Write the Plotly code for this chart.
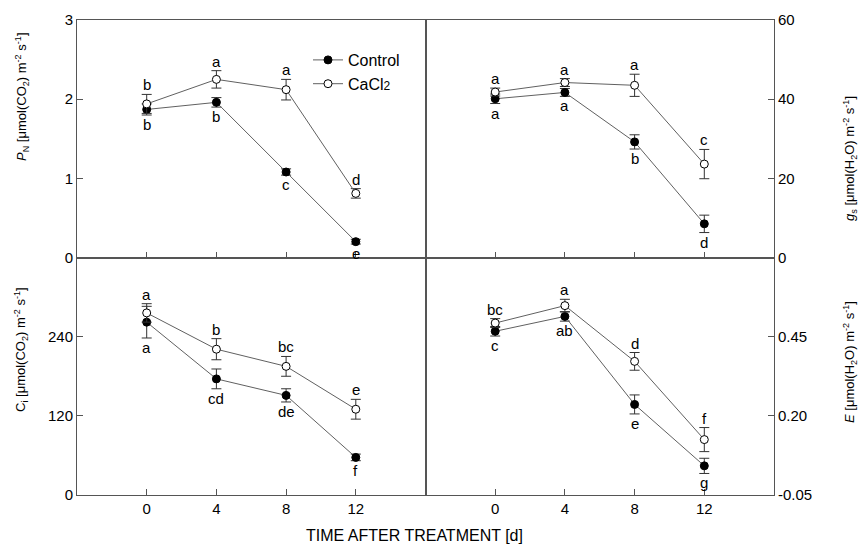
import plotly.graph_objects as go

days = [0, 4, 8, 12]

pn_ctrl = [1.87, 1.96, 1.08, 0.20]
pn_ctrl_err = [0.07, 0.06, 0.04, 0.03]
pn_ca = [1.94, 2.25, 2.12, 0.81]
pn_ca_err = [0.12, 0.11, 0.13, 0.06]
pn_ctrl_lab = ["b", "b", "c", "e"]
pn_ca_lab = ["b", "a", "a", "d"]

gs_ctrl = [40.1, 41.7, 29.2, 8.5]
gs_ctrl_err = [1.2, 1.0, 1.8, 2.2]
gs_ca = [41.8, 44.2, 43.5, 23.6]
gs_ca_err = [1.0, 1.0, 2.8, 3.7]
gs_ctrl_lab = ["a", "a", "b", "d"]
gs_ca_lab = ["a", "a", "a", "c"]

ci_ctrl = [262, 176, 151, 57]
ci_ctrl_err = [24, 15, 10, 5]
ci_ca = [276, 221, 195, 130]
ci_ca_err = [14, 16, 15, 15]
ci_ctrl_lab = ["a", "cd", "de", "f"]
ci_ca_lab = ["a", "b", "bc", "e"]

e_ctrl = [0.467, 0.514, 0.236, 0.042]
e_ctrl_err = [0.015, 0.015, 0.03, 0.024]
e_ca = [0.493, 0.548, 0.372, 0.125]
e_ca_err = [0.014, 0.02, 0.028, 0.038]
e_ctrl_lab = ["c", "ab", "e", "g"]
e_ca_lab = ["bc", "a", "d", "f"]

FONT = "Liberation Sans, Arial, sans-serif"
LINE_C = "#606060"
AX_C = "#555555"

W, H = 862, 544
ML, MR, MT, MB = 77, 88, 20, 49
PW = W - ML - MR
PH = H - MT - MB


def px_x(px):
    return (px - ML) / PW


def px_y(py):
    return (H - MB - py) / PH


fig = go.Figure()

panels = [
    ("x", "y", pn_ctrl, pn_ctrl_err, pn_ca, pn_ca_err, pn_ctrl_lab, pn_ca_lab, True),
    ("x2", "y2", gs_ctrl, gs_ctrl_err, gs_ca, gs_ca_err, gs_ctrl_lab, gs_ca_lab, False),
    ("x3", "y3", ci_ctrl, ci_ctrl_err, ci_ca, ci_ca_err, ci_ctrl_lab, ci_ca_lab, False),
    ("x4", "y4", e_ctrl, e_ctrl_err, e_ca, e_ca_err, e_ctrl_lab, e_ca_lab, False),
]

annotations = []
for xa, ya, c, ce, ca, cae, cl, cal, leg in panels:
    fig.add_trace(go.Scatter(
        x=days, y=c, xaxis=xa, yaxis=ya, mode="lines+markers", name="Control",
        showlegend=leg, line=dict(color=LINE_C, width=1),
        marker=dict(color="black", size=8, line=dict(color="black", width=1)),
        error_y=dict(type="data", array=ce, visible=True, color="#333333",
                     thickness=1, width=5),
    ))
    fig.add_trace(go.Scatter(
        x=days, y=ca, xaxis=xa, yaxis=ya, mode="lines+markers",
        name="CaCl<span style='font-size:12px'>2</span>",
        showlegend=leg, line=dict(color=LINE_C, width=1),
        marker=dict(color="white", size=8, line=dict(color="black", width=1)),
        error_y=dict(type="data", array=cae, visible=True, color="#333333",
                     thickness=1, width=5),
    ))
    for d, v, e, t in zip(days, c, ce, cl):
        annotations.append(dict(x=d, y=v - e, xref=xa, yref=ya, text=t,
                                showarrow=False, yanchor="top", yshift=1,
                                font=dict(size=15, color="black", family=FONT)))
    for d, v, e, t in zip(days, ca, cae, cal):
        annotations.append(dict(x=d, y=v + e, xref=xa, yref=ya, text=t,
                                showarrow=False, yanchor="bottom", yshift=-1,
                                font=dict(size=15, color="black", family=FONT)))

title_font = dict(size=13, color="black", family=FONT)
annotations += [
    dict(x=px_x(22), y=px_y(97), xref="paper", yref="paper", showarrow=False,
         textangle=-90, xanchor="center", yanchor="middle", font=title_font,
         text="<i>P</i><sub>N</sub> [μmol(CO<sub>2</sub>) m<sup>-2</sup> s<sup>-1</sup>]"),
    dict(x=px_x(21), y=px_y(350), xref="paper", yref="paper", showarrow=False,
         textangle=-90, xanchor="center", yanchor="middle", font=title_font,
         text="C<sub>i</sub> [μmol(CO<sub>2</sub>) m<sup>-2</sup> s<sup>-1</sup>]"),
    dict(x=px_x(850), y=px_y(159), xref="paper", yref="paper", showarrow=False,
         textangle=-90, xanchor="center", yanchor="middle", font=title_font,
         text="<i>g</i><sub>s</sub> [μmol(H<sub>2</sub>O) m<sup>-2</sup> s<sup>-1</sup>]"),
    dict(x=px_x(850), y=px_y(362), xref="paper", yref="paper", showarrow=False,
         textangle=-90, xanchor="center", yanchor="middle", font=title_font,
         text="<i>E</i> [μmol(H<sub>2</sub>O) m<sup>-2</sup> s<sup>-1</sup>]"),
    dict(x=px_x(414), y=px_y(535), xref="paper", yref="paper", showarrow=False,
         xanchor="center", yanchor="middle",
         font=dict(size=16, color="black", family=FONT),
         text="TIME AFTER TREATMENT [d]"),
]

xcommon = dict(range=[-4, 16], tickvals=days, ticks="inside", ticklen=6,
               tickcolor=AX_C, showline=True, linecolor=AX_C, linewidth=1,
               mirror=True, showgrid=False, zeroline=False,
               tickfont=dict(size=15, color="black", family=FONT))
ycommon = dict(ticks="inside", ticklen=6, tickcolor=AX_C, showline=True,
               linecolor=AX_C, linewidth=1, mirror=True, showgrid=False,
               zeroline=False, tickfont=dict(size=15, color="black", family=FONT))

fig.update_layout(
    width=W, height=H,
    margin=dict(l=ML, r=MR, t=MT, b=MB),
    paper_bgcolor="white", plot_bgcolor="white",
    font=dict(family=FONT, color="black"),
    xaxis=dict(xcommon, domain=[0, 0.5], anchor="y", showticklabels=False),
    xaxis2=dict(xcommon, domain=[0.5, 1], anchor="y2", showticklabels=False),
    xaxis3=dict(xcommon, domain=[0, 0.5], anchor="y3"),
    xaxis4=dict(xcommon, domain=[0.5, 1], anchor="y4"),
    yaxis=dict(ycommon, domain=[0.5, 1], anchor="x", range=[0, 3],
               tickvals=[0, 1, 2, 3]),
    yaxis2=dict(ycommon, domain=[0.5, 1], anchor="x2", side="right",
                range=[0, 60], tickvals=[0, 20, 40, 60]),
    yaxis3=dict(ycommon, domain=[0, 0.5], anchor="x3", range=[0, 360],
                tickvals=[0, 120, 240]),
    yaxis4=dict(ycommon, domain=[0, 0.5], anchor="x4", side="right",
                range=[-0.05, 0.70], tickvals=[-0.05, 0.20, 0.45],
                ticktext=["-0.05", "0.20", "0.45"]),
    legend=dict(x=px_x(308), y=px_y(43), xanchor="left", yanchor="top",
                bgcolor="rgba(0,0,0,0)", borderwidth=0,
                font=dict(size=16, color="black", family=FONT),
                tracegroupgap=0, itemwidth=30),
    annotations=annotations,
)

fig.write_html("out.html")
